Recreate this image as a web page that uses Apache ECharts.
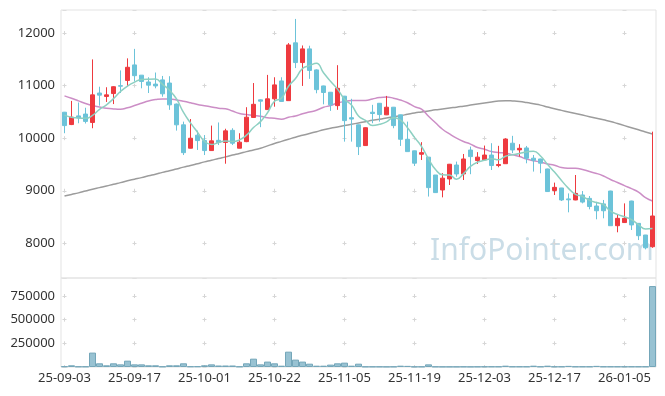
<!DOCTYPE html>
<html>
<head>
<meta charset="utf-8">
<script src="https://cdn.jsdelivr.net/npm/echarts@6.0.0/dist/echarts.min.js"></script>
<style>
html,body{margin:0;padding:0;background:#fff;}
#chart{width:665px;height:396px;}
</style>
</head>
<body>
<div id="chart"></div>
<script>
const dates = [
'25-09-03','25-09-04','25-09-05','25-09-08','25-09-09','25-09-10','25-09-11','25-09-12','25-09-15','25-09-16',
'25-09-17','25-09-18','25-09-19','25-09-22','25-09-23','25-09-24','25-09-25','25-09-26','25-09-29','25-09-30',
'25-10-01','25-10-02','25-10-10','25-10-13','25-10-14','25-10-15','25-10-16','25-10-17','25-10-20','25-10-21',
'25-10-22','25-10-23','25-10-24','25-10-27','25-10-28','25-10-29','25-10-30','25-10-31','25-11-03','25-11-04',
'25-11-05','25-11-06','25-11-07','25-11-10','25-11-11','25-11-12','25-11-13','25-11-14','25-11-17','25-11-18',
'25-11-19','25-11-20','25-11-21','25-11-24','25-11-25','25-11-26','25-11-27','25-11-28','25-12-01','25-12-02',
'25-12-03','25-12-04','25-12-05','25-12-08','25-12-09','25-12-10','25-12-11','25-12-12','25-12-15','25-12-16',
'25-12-17','25-12-18','25-12-19','25-12-22','25-12-23','25-12-24','25-12-26','25-12-29','25-12-30','26-01-02',
'26-01-05','26-01-06','26-01-07','26-01-08','26-01-09'];

const opens = [10495,10260,10425,10460,10300,10860,10795,10850,11000,11100,
11395,11200,11070,11030,11110,11050,10650,10255,9810,10057,
9955,9765,9960,9920,10150,9810,9935,10395,10730,10545,
10750,11090,10715,11815,11440,11700,11300,10995,10875,10620,
10800,10390,10255,9860,10495,10665,10445,10590,10445,9980,
9760,9695,9640,9300,9015,9225,9490,9320,9775,9575,
9590,9680,9480,9515,9905,9778,9815,9620,9605,9415,
9005,9053,8845,8825,8920,8855,8710,8750,8995,8335,
8395,8805,8380,8158,7935];

const closes = [10240,10400,10385,10320,10825,10820,10825,10980,10990,11350,
11190,11080,11010,10995,10845,10635,10255,9725,10000,9955,
9765,9950,9920,10140,9905,9925,10400,10645,10705,10750,
11015,10700,11775,11440,11700,11290,10925,10870,10635,10950,
10335,10365,9840,10200,10470,10450,10590,10240,9980,9745,
9525,9725,9060,8965,9240,9505,9320,9605,9650,9640,
9680,9480,9500,9985,9777,9808,9620,9580,9525,8985,
9065,8825,8828,8950,8785,8700,8620,8620,8335,8475,
8475,8350,8145,7915,8520];

const lows = [10095,10250,10285,10280,10190,10620,10690,10650,10860,10985,
11080,10950,10860,10950,10790,10540,10145,9680,9805,9777,
9680,9760,9870,9515,9870,9808,9925,10390,10210,10540,
10600,10695,10715,11335,10995,11130,10855,10645,10520,10540,
9935,9935,9680,9855,10285,10315,10440,10190,9853,9745,
9472,9585,8890,8960,8875,9110,9268,9205,9315,9510,
9585,9395,9447,9515,9715,9650,9523,9365,9333,8980,
8920,8805,8590,8820,8760,8647,8457,8476,8335,8210,
8390,8253,8062,7885,7915];

const highs = [10500,10710,10680,10580,11500,10980,10970,10990,11290,11520,
11700,11200,11160,11250,11185,11180,10660,10316,10365,10145,
10060,10240,10300,10180,10190,10095,10590,11050,10740,11205,
11160,11160,11810,12270,11765,11760,11310,11000,10880,11390,
10805,10750,10260,10205,10635,10670,10805,10595,10450,10316,
9765,9925,9640,9300,9335,9510,9555,9700,9840,9735,
9860,9905,9855,10000,10045,9886,9853,9680,9610,9420,
9155,9055,8950,9300,8995,8900,8790,8825,9000,8540,
8760,8810,8385,8160,10125];

const volumes = [7000,18000,5000,5000,152000,39000,18000,39000,28000,67000,
28000,28000,18000,18000,5000,18000,18000,39000,6000,7000,
18000,28000,16000,16000,16000,5000,39000,88000,28000,57000,
39000,14000,162000,78000,57000,35000,14000,14000,25000,39000,
46000,14000,35000,4000,4000,4000,3000,4000,14000,12000,
4000,4000,28000,4000,3000,3000,3000,4000,3000,4000,
5000,5000,5000,14000,5000,5000,5000,14000,5000,14000,
5000,5000,12000,5000,5000,5000,12000,5000,5000,5000,
5000,5000,5000,5000,855000];

const ma5 = [10440,10400,10385,10380,10434,10550,10635,10754,10888,10993,
11067,11118,11124,11125,11024,10913,10748,10491,10292,10114,
9940,9879,9918,9946,9936,9968,10058,10203,10316,10485,
10703,10763,10989,11136,11326,11381,11426,11245,11084,10934,
10743,10631,10425,10338,10242,10265,10310,10390,10346,10201,
10016,9843,9607,9404,9303,9299,9218,9327,9464,9544,
9579,9611,9590,9657,9684,9710,9738,9754,9662,9504,
9355,9196,9046,8931,8891,8818,8777,8735,8612,8550,
8505,8451,8356,8272,8281];

const ma20 = [10806,10760,10710,10660,10621,10595,10571,10558,10552,10580,
10621,10665,10710,10735,10748,10745,10729,10705,10675,10641,
10618,10595,10572,10563,10517,10472,10451,10434,10420,10390,
10381,10362,10400,10423,10465,10498,10532,10589,10621,10670,
10699,10720,10716,10719,10747,10773,10783,10762,10726,10676,
10601,10553,10417,10293,10170,10081,10001,9937,9888,9823,
9790,9746,9729,9718,9683,9651,9603,9570,9547,9509,
9486,9441,9429,9428,9406,9365,9330,9281,9215,9157,
9097,9040,8973,8869,8806];

const ma60 = [8900,8930,8960,8995,9030,9060,9090,9125,9155,9190,
9220,9250,9285,9315,9350,9380,9415,9450,9480,9515,
9550,9580,9615,9645,9680,9710,9745,9775,9810,9855,
9900,9940,9980,10020,10055,10090,10125,10160,10190,10215,
10240,10265,10290,10315,10340,10360,10385,10410,10430,10455,
10480,10500,10520,10540,10555,10575,10590,10610,10630,10650,
10670,10690,10710,10715,10710,10700,10680,10655,10630,10595,
10560,10530,10500,10470,10440,10410,10380,10350,10320,10280,
10240,10200,10160,10120,10082];

const candleData = dates.map((d, i) => [opens[i], closes[i], lows[i], highs[i]]);

const FONT = 'Noto Sans';
const LABEL_COLOR = '#333';
const CROSS = '#d6d6d6';
const BORDER = '#e3e3e3';
const plain = v => String(v);

const chart = echarts.init(document.getElementById('chart'), null, {renderer: 'canvas'});
chart.setOption({
  animation: false,
  backgroundColor: '#fff',
  graphic: [{
    type: 'text', left: 430, top: 236, z: 0,
    style: {text: 'InfoPointer.com', fontFamily: FONT, fontSize: 30, fill: '#cadde7'}
  }],
  grid: [
    {left: 61, top: 10, width: 595, height: 268, show: true, borderColor: BORDER, borderWidth: 1, z: 1},
    {left: 61, top: 278, width: 595, height: 89, show: true, borderColor: BORDER, borderWidth: 1, z: 1}
  ],
  xAxis: [
    {type: 'category', gridIndex: 0, data: dates, boundaryGap: true,
     axisLine: {show: false}, axisTick: {show: false}, axisLabel: {show: false},
     splitLine: {show: true, interval: 9, alignWithLabel: true,
       lineStyle: {color: CROSS, width: 1, type: [4, 48.55], dashOffset: 31.45}}},
    {type: 'category', gridIndex: 1, data: dates, boundaryGap: true,
     axisLine: {show: false}, axisTick: {show: false},
     axisLabel: {show: true, interval: 9, fontFamily: FONT, fontSize: 13, color: LABEL_COLOR, margin: 5},
     splitLine: {show: true, interval: 9, alignWithLabel: true,
       lineStyle: {color: CROSS, width: 1, type: [4, 19.67], dashOffset: 7.67}}}
  ],
  yAxis: [
    {type: 'value', gridIndex: 0, min: 7340, max: 12440, splitNumber: 5, scale: true,
     axisLine: {show: false}, axisTick: {show: false},
     axisLabel: {formatter: plain, fontFamily: FONT, fontSize: 13, color: LABEL_COLOR, margin: 6, showMinLabel: false, showMaxLabel: false},
     splitLine: {show: true, lineStyle: {color: CROSS, width: 1, type: [4, 66], dashOffset: 68.5}}},
    {type: 'value', gridIndex: 1, min: 0, max: 940000, interval: 250000,
     axisLine: {show: false}, axisTick: {show: false},
     axisLabel: {formatter: plain, fontFamily: FONT, fontSize: 13, color: LABEL_COLOR, margin: 6, showMinLabel: false, showMaxLabel: false},
     splitLine: {show: true, lineStyle: {color: CROSS, width: 1, type: [4, 66], dashOffset: 68.5}}}
  ],
  series: [
    {name: 'MA60', type: 'line', xAxisIndex: 0, yAxisIndex: 0, data: ma60, smooth: true, showSymbol: false,
     lineStyle: {color: '#9c9c9c', width: 1.5}, z: 3},
    {name: 'MA20', type: 'line', xAxisIndex: 0, yAxisIndex: 0, data: ma20, smooth: true, showSymbol: false,
     lineStyle: {color: '#cc8ec6', width: 1.5}, z: 3},
    {name: 'Price', type: 'candlestick', xAxisIndex: 0, yAxisIndex: 0, data: candleData, barWidth: 5,
     itemStyle: {color: '#ee3a3f', color0: '#6cc3d9', borderColor: '#ee3a3f', borderColor0: '#6cc3d9', borderWidth: 1}, z: 4},
    {name: 'MA5', type: 'line', xAxisIndex: 0, yAxisIndex: 0, data: ma5, smooth: true, showSymbol: false,
     lineStyle: {color: '#8dd0c2', width: 1.5}, z: 5},
    {name: 'Volume', type: 'bar', xAxisIndex: 1, yAxisIndex: 1, data: volumes, barCategoryGap: '0%',
     itemStyle: {color: '#98c2d2', borderColor: '#74a6b9', borderWidth: 1}, z: 3}
  ]
});
</script>
</body>
</html>
